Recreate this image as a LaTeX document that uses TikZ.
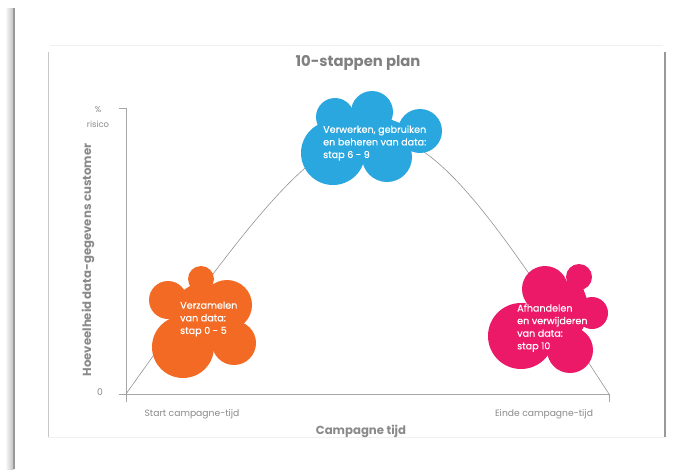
\documentclass[tikz,border=0pt]{standalone}
\usepackage{fontspec}
\setmainfont{Poppins}
\definecolor{cOrange}{HTML}{F26A23}
\definecolor{cBlue}{HTML}{2AA7DF}
\definecolor{cPink}{HTML}{EC1868}
\definecolor{cText}{HTML}{8A8A8A}
\definecolor{cTitle}{HTML}{808080}
\definecolor{cAxis}{HTML}{A6A6A6}
\tikzset{
  axisline/.style={draw=cAxis, line width=0.8pt},
  curveline/.style={draw=cAxis!90!black, line width=0.6pt},
  lobe/.style={fill=#1, draw=none},
  cloudtext/.style={text=white, align=left, inner sep=0pt, font=\fontsize{9.6}{12.6}\selectfont\addfontfeature{FakeBold=0.5}},
  smalllabel/.style={text=cText, inner sep=0pt, font=\fontsize{9.2}{10}\selectfont},
  biglabel/.style={text=cText, inner sep=0pt, font=\bfseries\fontsize{11.7}{12}\selectfont},
}
\begin{document}
\begin{tikzpicture}[x=1pt,y=-1pt]
\useasboundingbox (0,0) rectangle (685,469);
\fill[white] (0,0) rectangle (685,469);
% page shadow at left
\shade[left color=white, right color=black!25] (5,8) rectangle (13.5,469);
\draw[black!40, line width=1.2pt] (14,8) -- (14,469);
% panel
\draw[black!6, line width=0.8pt] (50,45) -- (663,45);
\draw[black!6, line width=0.8pt] (48,437) -- (665,437);
\draw[black!22, line width=0.8pt] (48,52) -- (48,437);
\draw[black!40, line width=1.4pt] (665,52) -- (665,437);
% title
\node[text=cTitle, font=\bfseries\fontsize{14.8}{16}\selectfont, inner sep=0pt] (title) at (358,63) {10-stappen plan};
% axes
\coordinate (O) at (126,394);
\coordinate (Ytop) at (126,108);
\coordinate (Ytick) at (119,108);
\coordinate (Xstart) at (119,394);
\coordinate (E) at (609,394);
\coordinate (Etick) at (609,402);
\coordinate (Otick) at (126,402);
\draw[axisline] (Ytick) -- (Ytop) -- (Otick);
\draw[axisline] (Xstart) -- (E) -- (Etick);
% curve
\draw[curveline] (O) .. controls (372,48) and (384,48) .. (E);
% axis labels
\node[smalllabel, font=\fontsize{8.4}{9}\selectfont] (pct) at (98,110) {\%};
\node[smalllabel, font=\fontsize{8.4}{9}\selectfont] (ris) at (98,124) {risico};
\node[smalllabel] (zero) at (100,392) {0};
\node[biglabel, rotate=90] (ylab) at (88,260) {Hoeveelheid data-gegevens customer};
\node[smalllabel] (xs) at (192,414) {Start campagne-tijd};
\node[smalllabel] (xe) at (544,414) {Einde campagne-tijd};
\node[biglabel] (xlab) at (361,431) {Campagne tijd};
% orange cloud
\begin{scope}
\fill[lobe=cOrange] (201,279) circle[radius=13pt];
\fill[lobe=cOrange] (168,300) circle[radius=19pt];
\fill[lobe=cOrange] (227,305) circle[radius=25pt];
\fill[lobe=cOrange] (234,343) circle[radius=22pt];
\fill[lobe=cOrange] (183,347) circle[radius=31pt];
\fill[lobe=cOrange] (201,279) -- (227,305) -- (234,343) -- (183,347) -- (168,300) -- cycle;
\end{scope}
\node[cloudtext, anchor=west] (c1) at (180,319) {Verzamelen\\van data:\\stap 0 - 5};
% blue cloud
\begin{scope}
\fill[lobe=cBlue] (335,117) circle[radius=19pt];
\fill[lobe=cBlue] (372,112) circle[radius=21pt];
\fill[lobe=cBlue] (420,131) circle[radius=22pt];
\fill[lobe=cBlue] (333,153) circle[radius=32pt];
\fill[lobe=cBlue] (387,157) circle[radius=25pt];
\fill[lobe=cBlue] (335,117) -- (372,112) -- (420,131) -- (387,157) -- (333,153) -- cycle;
\end{scope}
\node[cloudtext, anchor=west] (c2) at (323,143) {Verwerken, gebruiken\\en beheren van data:\\stap 6 - 9};
% pink cloud
\begin{scope}
\fill[lobe=cPink] (579,277) circle[radius=13pt];
\fill[lobe=cPink] (545,289) circle[radius=23pt];
\fill[lobe=cPink] (592,313) circle[radius=16pt];
\fill[lobe=cPink] (521,336) circle[radius=33pt];
\fill[lobe=cPink] (570,350) circle[radius=23pt];
\fill[lobe=cPink] (545,289) -- (579,277) -- (592,313) -- (570,350) -- (521,336) -- cycle;
\end{scope}
\node[cloudtext, anchor=west] (c3) at (517,328) {Afhandelen\\en verwijderen\\van data:\\stap 10};
\end{tikzpicture}
\end{document}
